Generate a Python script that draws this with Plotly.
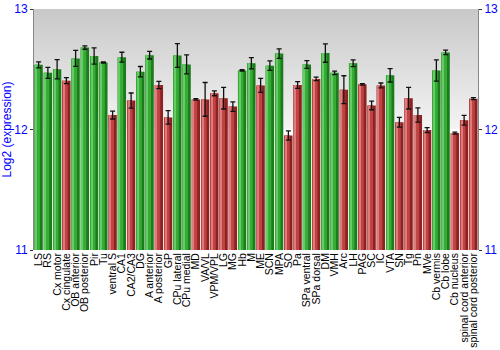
import plotly.graph_objects as go

# Brain regions and mean log2 expression with standard error
regions = [
    "LS", "RS", "Cx motor", "Cx cingulate", "OB anterior", "OB posterior", "Pir", "Tu",
    "ventral S", "CA1", "CA2/CA3", "DG", "A anterior", "A posterior", "GP", "CPu lateral",
    "CPu medial", "MD", "VA/VL", "VPM/VPL", "LG", "MG", "Hb", "M", "ME", "SCN", "MPA",
    "SO", "Pa", "SPa ventral", "SPa dorsal", "DM", "VMH", "Arc", "LH", "PAG", "SC", "IC",
    "VTA", "SN", "Tg", "Pn", "MVe", "Cb vermis", "Cb lobe", "Cb nucleus",
    "spinal cord anterior", "spinal cord posterior",
]
expression = [
    12.537, 12.47, 12.50, 12.405, 12.59, 12.68, 12.61, 12.556,
    12.12, 12.60, 12.24, 12.48, 12.617, 12.37, 12.10, 12.614,
    12.54, 12.25, 12.25, 12.30, 12.26, 12.19, 12.49, 12.55, 12.366, 12.53, 12.63,
    11.95, 12.37, 12.54, 12.42, 12.634, 12.47, 12.33, 12.55, 12.375, 12.20, 12.366,
    12.45, 12.06, 12.26, 12.12, 11.995, 12.49, 12.64, 11.97,
    12.077, 12.256,
]
std_error = [
    0.025, 0.045, 0.08, 0.025, 0.066, 0.014, 0.067, 0.005,
    0.033, 0.041, 0.063, 0.043, 0.032, 0.030, 0.056, 0.099,
    0.079, 0.006, 0.14, 0.020, 0.09, 0.040, 0.006, 0.047, 0.058, 0.040, 0.039,
    0.039, 0.028, 0.032, 0.015, 0.076, 0.014, 0.116, 0.028, 0.006, 0.036, 0.020,
    0.056, 0.041, 0.09, 0.059, 0.020, 0.088, 0.018, 0.008,
    0.040, 0.008,
]
# "H" = high group (green), "L" = low group (red)
group = [
    "H", "H", "H", "L", "H", "H", "H", "H",
    "L", "H", "L", "H", "H", "L", "L", "H",
    "H", "L", "L", "L", "L", "L", "H", "H", "L", "H", "H",
    "L", "L", "H", "L", "H", "H", "L", "H", "L", "L", "L",
    "H", "L", "L", "L", "L", "H", "H", "L",
    "L", "L",
]

shades = {
    "H": ("#1c7c1c", "#36ac36", "#66cc66"),
    "L": ("#8c2222", "#c04242", "#dc7c7c"),
}
dark = [shades[g][0] for g in group]
mid = [shades[g][1] for g in group]
light = [shades[g][2] for g in group]

fig = go.Figure()
# cylinder-like shading: dark body, lighter core, thin highlight stripe
fig.add_trace(go.Bar(x=regions, y=expression, width=0.9, marker=dict(color=dark, line=dict(width=0)),
                     hoverinfo="skip"))
fig.add_trace(go.Bar(x=regions, y=expression, width=0.6, offset=-0.45, marker=dict(color=mid, line=dict(width=0)),
                     hoverinfo="skip"))
fig.add_trace(go.Bar(x=regions, y=expression, width=0.14, offset=-0.33, marker=dict(color=light, line=dict(width=0)),
                     hoverinfo="skip"))
# error bars
fig.add_trace(go.Scatter(x=regions, y=expression, mode="markers", marker=dict(size=0.1, color="rgba(0,0,0,0)"),
                         error_y=dict(type="data", array=std_error, color="#111111", thickness=1.3, width=2.5),
                         showlegend=False))
# invisible trace to carry the right-hand axis
fig.add_trace(go.Scatter(x=[regions[0]], y=[12], yaxis="y2", mode="markers",
                         marker=dict(color="rgba(0,0,0,0)"), showlegend=False, hoverinfo="skip"))

# grey-to-white gradient in the upper half of the plotting area
shapes = []
n = 40
for i in range(n):
    y0 = 12 + i / n
    y1 = min(13, 12 + (i + 1.6) / n)
    t = (i + 0.5) / n
    c = int(round(244 - t * (244 - 200)))
    shapes.append(dict(type="rect", xref="paper", yref="y", x0=0, x1=1, y0=y0, y1=y1,
                       fillcolor=f"rgb({c},{c},{c})", line=dict(width=0), layer="below"))

fig.update_layout(
    width=500, height=350,
    margin=dict(l=34, r=22, t=9, b=100),
    barmode="overlay",
    bargap=0.1,
    showlegend=False,
    paper_bgcolor="white",
    plot_bgcolor="white",
    shapes=shapes,
    font=dict(family="Liberation Sans, Arial, sans-serif"),
    xaxis=dict(
        type="category", tickangle=-90, tickfont=dict(size=10.5, color="black"),
        tickmode="linear", tick0=0, dtick=1, automargin=False,
        showgrid=False, ticks="", showline=False, range=[-0.5, len(regions) - 0.5],
    ),
    yaxis=dict(
        range=[11, 13], tickvals=[11, 12, 13], tickfont=dict(size=12, color="blue"),
        title=dict(text="Log2 (expression)", font=dict(size=12, color="blue"), standoff=4),
        showgrid=True, gridcolor="white", gridwidth=1.5, automargin=False,
        showline=True, linecolor="#888888", linewidth=1, mirror=False,
        ticks="outside", ticklen=3, tickcolor="#333333", zeroline=False,
    ),
    yaxis2=dict(
        range=[11, 13], tickvals=[11, 12, 13], tickfont=dict(size=12, color="blue"),
        overlaying="y", side="right", showgrid=False, automargin=False,
        showline=True, linecolor="#888888", linewidth=1,
        ticks="outside", ticklen=3, tickcolor="#333333", zeroline=False,
    ),
)

fig.write_html("out.html")
